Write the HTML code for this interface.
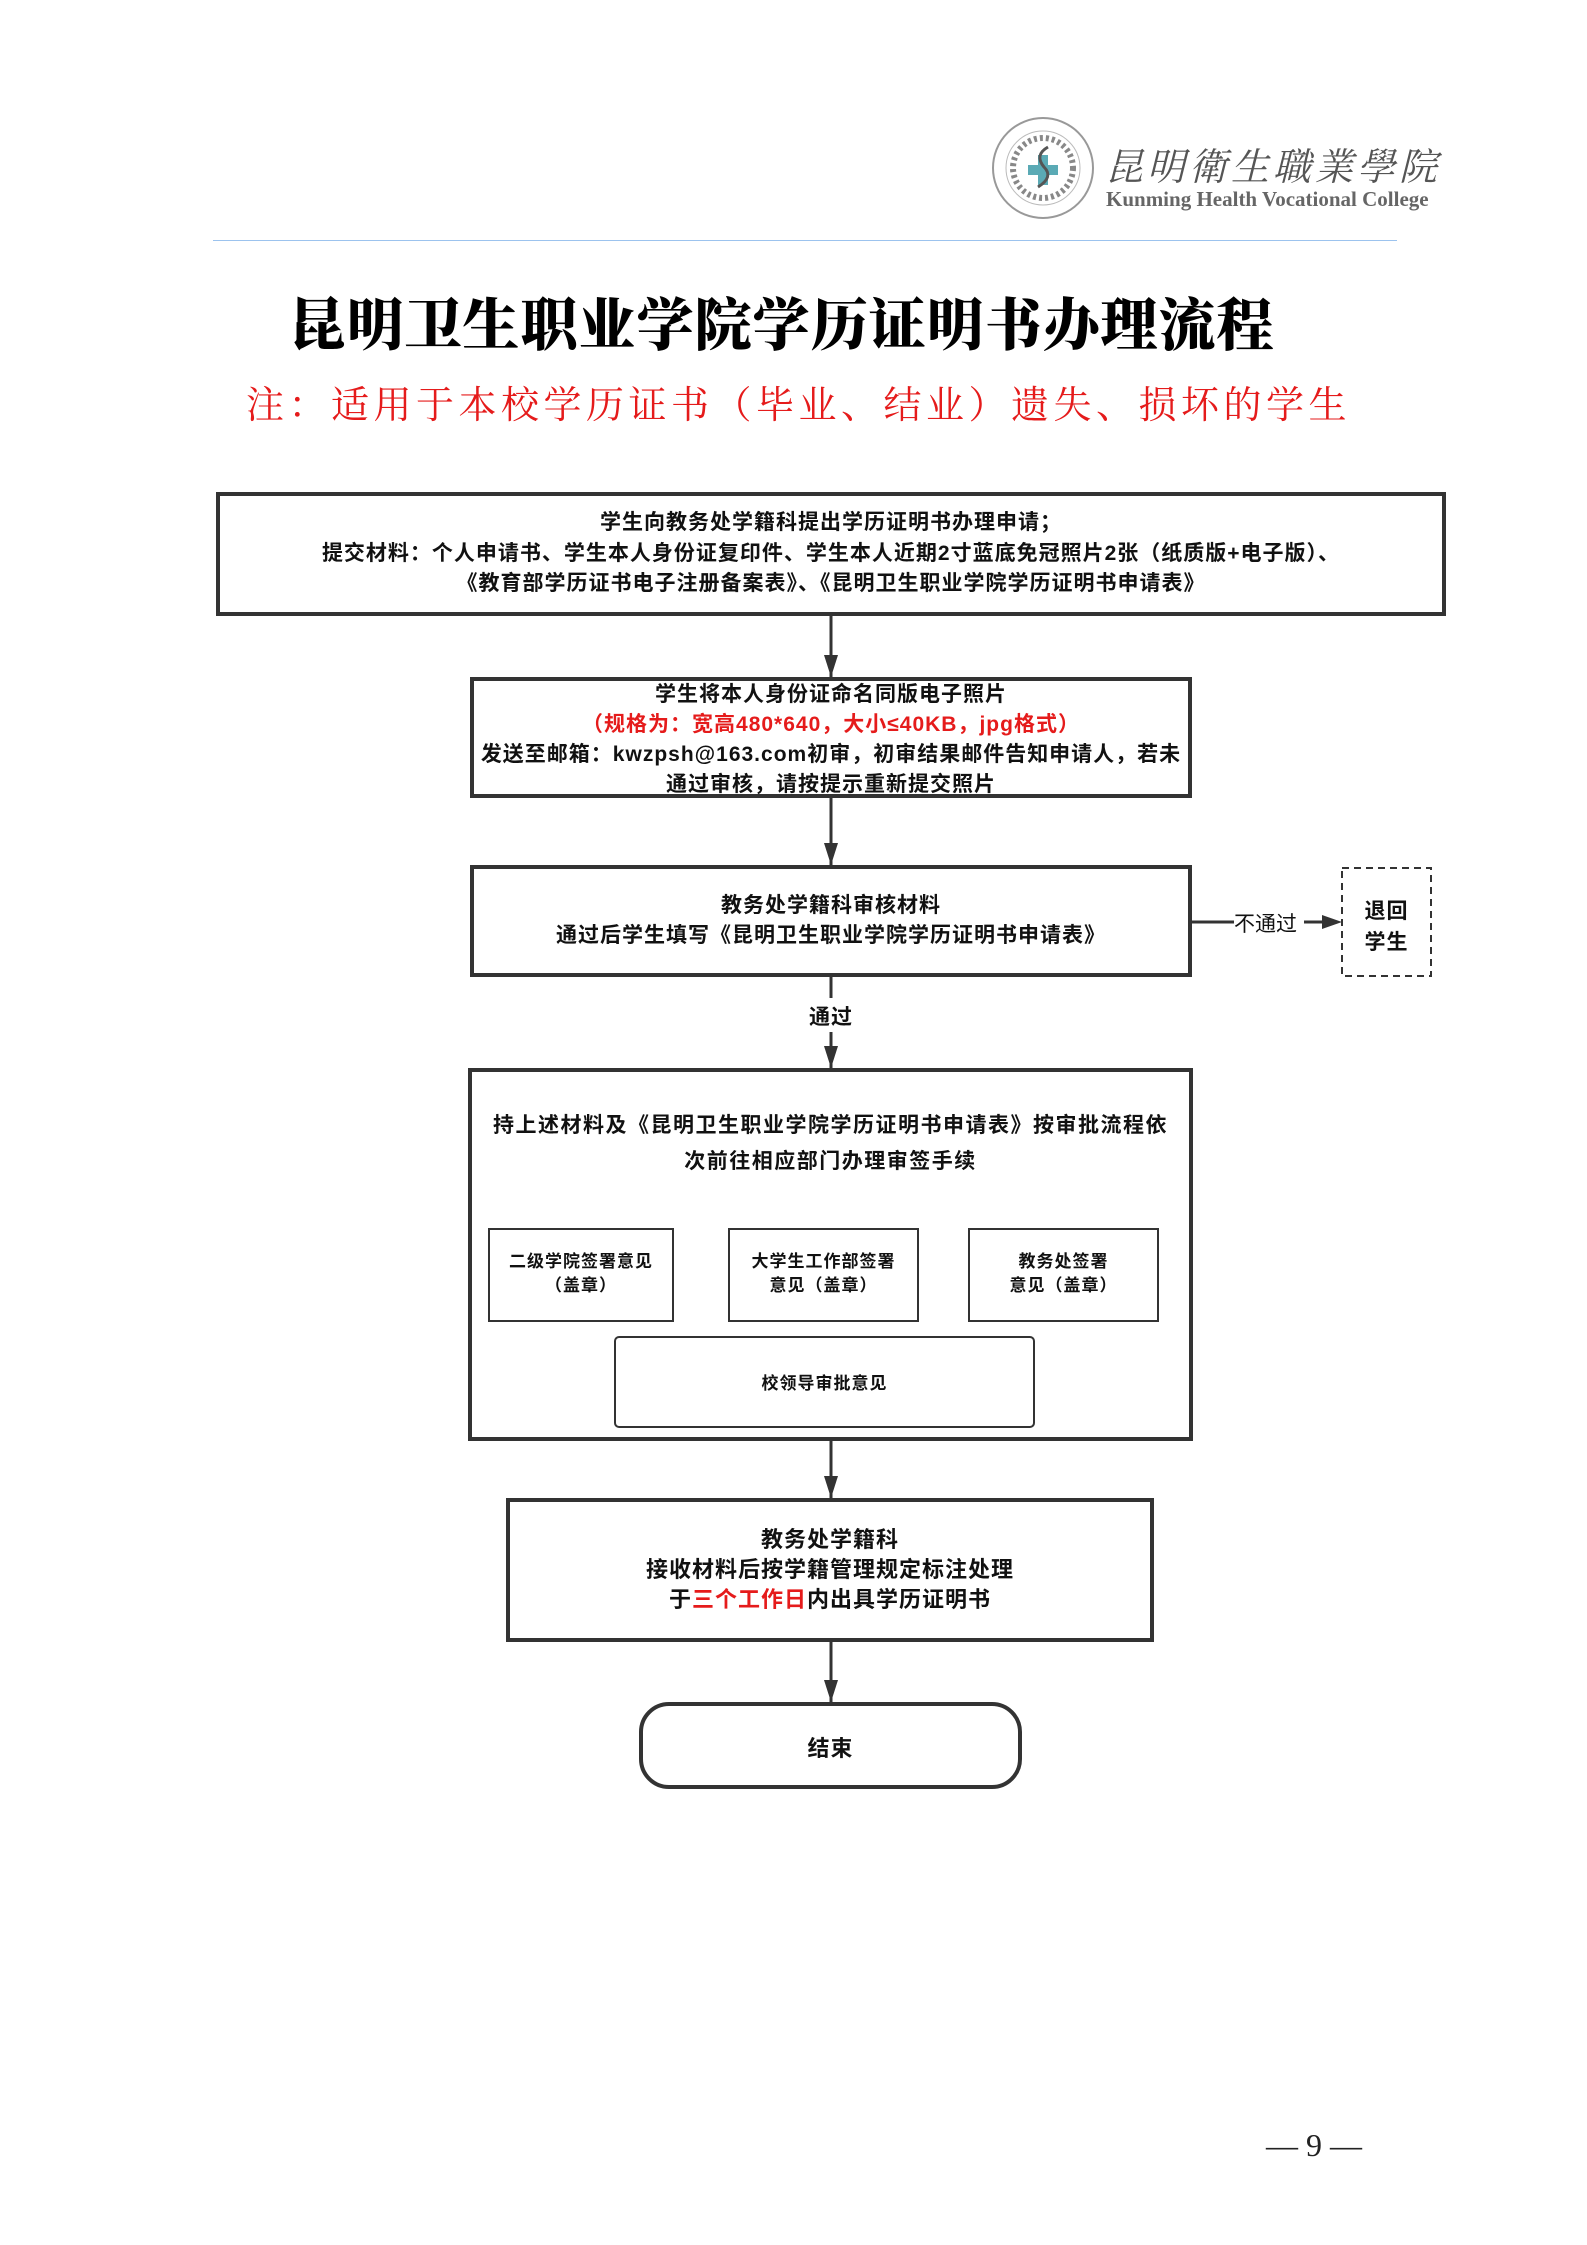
<!DOCTYPE html>
<html><head><meta charset="utf-8">
<style>
body{margin:0;background:#fff}
#p{position:relative;width:1587px;height:2245px;overflow:hidden;background:#fff}
.a{position:absolute}
.c{position:absolute;text-align:center;font-family:"Liberation Sans","Noto Sans CJK SC",sans-serif;font-weight:bold;color:#111;white-space:nowrap;letter-spacing:1px}
.box{position:absolute;border:4px solid #333;box-sizing:border-box;background:#fff}
.r{color:#e51b1b}
</style></head><body><div id="p">
<!-- logo -->
<svg class="a" style="left:990px;top:115px" width="110" height="110">
<circle cx="53" cy="53" r="50" fill="none" stroke="#999" stroke-width="2"/>
<circle cx="53" cy="53" r="37" fill="none" stroke="#bbb" stroke-width="1"/>
<circle cx="53" cy="53" r="30" fill="none" stroke="#888" stroke-width="6" stroke-dasharray="3 3"/>
<rect x="38" y="50" width="30" height="10" fill="#5aaab5"/><rect x="48" y="40" width="10" height="30" fill="#5aaab5"/>
<path d="M58 32 Q44 40 54 52 Q64 62 48 72" fill="none" stroke="#555" stroke-width="3"/>
</svg>
<div class="a" style="left:1105px;top:136px;font-family:'Noto Serif CJK SC',serif;font-size:38px;color:#555;letter-spacing:4px;font-style:italic">昆明衛生職業學院</div>
<div class="a" style="left:1106px;top:187px;font-family:'Liberation Serif',serif;font-size:21px;font-weight:bold;color:#666">Kunming Health Vocational College</div>
<div class="a" style="left:213px;top:240px;width:1184px;height:1px;background:#9cc3ee"></div>
<!-- title -->
<div class="c" style="left:-12px;width:1587px;top:280px;font-family:'Liberation Serif','Noto Serif CJK SC',serif;font-weight:900;font-size:57px;letter-spacing:1px;color:#000">昆明卫生职业学院学历证明书办理流程</div>
<div class="c" style="left:5px;width:1587px;top:374px;font-family:'Liberation Serif','Noto Serif CJK SC',serif;font-weight:normal;font-size:38px;letter-spacing:4.5px;color:#e51b1b">注：适用于本校学历证书（毕业、结业）遗失、损坏的学生</div>
<!-- connectors -->
<svg class="a" style="left:0;top:0" width="1587" height="2245">
<defs><marker id="m" markerWidth="12" markerHeight="24" refX="12" refY="6" orient="auto" markerUnits="userSpaceOnUse"><path d="M0 0L18 6L0 12z" fill="#333"/></marker>
<marker id="mv" markerWidth="14" markerHeight="22" refX="7" refY="22" orient="0" markerUnits="userSpaceOnUse"><path d="M0 0L14 0L7 22z" fill="#333"/></marker></defs>
<g stroke="#333" stroke-width="3" fill="none">
<line x1="831" y1="616" x2="831" y2="677" marker-end="url(#mv)"/>
<line x1="831" y1="798" x2="831" y2="865" marker-end="url(#mv)"/>
<line x1="831" y1="977" x2="831" y2="998"/>
<line x1="831" y1="1032" x2="831" y2="1068" marker-end="url(#mv)"/>
<line x1="831" y1="1441" x2="831" y2="1498" marker-end="url(#mv)"/>
<line x1="831" y1="1642" x2="831" y2="1702" marker-end="url(#mv)"/>
<line x1="1192" y1="922" x2="1234" y2="922"/>
<line x1="1304" y1="922" x2="1330" y2="922"/>
</g>
<path d="M1322 915L1342 922L1322 929z" fill="#333"/>
<rect x="1342" y="868" width="89" height="108" fill="none" stroke="#333" stroke-width="2" stroke-dasharray="7 5"/>
</svg>
<div class="c" style="left:1234px;top:908px;font-size:21px;font-weight:normal;letter-spacing:0">不通过</div>
<div class="c" style="left:1342px;width:89px;top:896px;font-size:21px;line-height:31px">退回<br>学生</div>
<div class="c" style="left:781px;width:100px;top:1001px;font-size:21px">通过</div>
<!-- box1 -->
<div class="box" style="left:216px;top:492px;width:1230px;height:124px"></div>
<div class="c" style="left:216px;width:1230px;top:508px;font-size:21px;line-height:30.5px">学生向教务处学籍科提出学历证明书办理申请；<br>提交材料：个人申请书、学生本人身份证复印件、学生本人近期2寸蓝底免冠照片2张（纸质版+电子版）、<br>《教育部学历证书电子注册备案表》、《昆明卫生职业学院学历证明书申请表》</div>
<!-- box2 -->
<div class="box" style="left:470px;top:677px;width:722px;height:121px"></div>
<div class="c" style="left:470px;width:722px;top:680px;font-size:21px;line-height:30px">学生将本人身份证命名同版电子照片<br><span class="r">（规格为：宽高480*640，大小≤40KB，jpg格式）</span><br>发送至邮箱：kwzpsh@163.com初审，初审结果邮件告知申请人，若未<br>通过审核，请按提示重新提交照片</div>
<!-- box3 -->
<div class="box" style="left:470px;top:865px;width:722px;height:112px"></div>
<div class="c" style="left:470px;width:722px;top:891px;font-size:21px;line-height:30px">教务处学籍科审核材料<br>通过后学生填写《昆明卫生职业学院学历证明书申请表》</div>
<!-- box4 -->
<div class="box" style="left:468px;top:1068px;width:725px;height:373px"></div>
<div class="c" style="left:468px;width:725px;top:1108px;font-size:21px;line-height:36px;letter-spacing:1.5px">持上述材料及《昆明卫生职业学院学历证明书申请表》按审批流程依<br>次前往相应部门办理审签手续</div>
<div class="box" style="left:488px;top:1228px;width:186px;height:94px;border-width:2px"></div>
<div class="c" style="left:488px;width:186px;top:1250px;font-size:17px;line-height:24px">二级学院签署意见<br>（盖章）</div>
<div class="box" style="left:728px;top:1228px;width:191px;height:94px;border-width:2px"></div>
<div class="c" style="left:728px;width:191px;top:1250px;font-size:17px;line-height:24px">大学生工作部签署<br>意见（盖章）</div>
<div class="box" style="left:968px;top:1228px;width:191px;height:94px;border-width:2px"></div>
<div class="c" style="left:968px;width:191px;top:1250px;font-size:17px;line-height:24px">教务处签署<br>意见（盖章）</div>
<div class="box" style="left:614px;top:1336px;width:421px;height:92px;border-width:2px;border-radius:5px"></div>
<div class="c" style="left:614px;width:421px;top:1369px;font-size:17px">校领导审批意见</div>
<!-- box5 -->
<div class="box" style="left:506px;top:1498px;width:648px;height:144px"></div>
<div class="c" style="left:506px;width:648px;top:1525px;font-size:22px;line-height:30px">教务处学籍科<br>接收材料后按学籍管理规定标注处理<br>于<span class="r">三个工作日</span>内出具学历证明书</div>
<!-- end -->
<div class="box" style="left:639px;top:1702px;width:383px;height:87px;border-radius:30px"></div>
<div class="c" style="left:639px;width:383px;top:1731px;font-size:22px">结束</div>
<div class="a" style="left:1266px;top:2127px;font-family:'Liberation Serif',serif;font-size:32px;color:#222">— 9 —</div>
</div></body></html>
